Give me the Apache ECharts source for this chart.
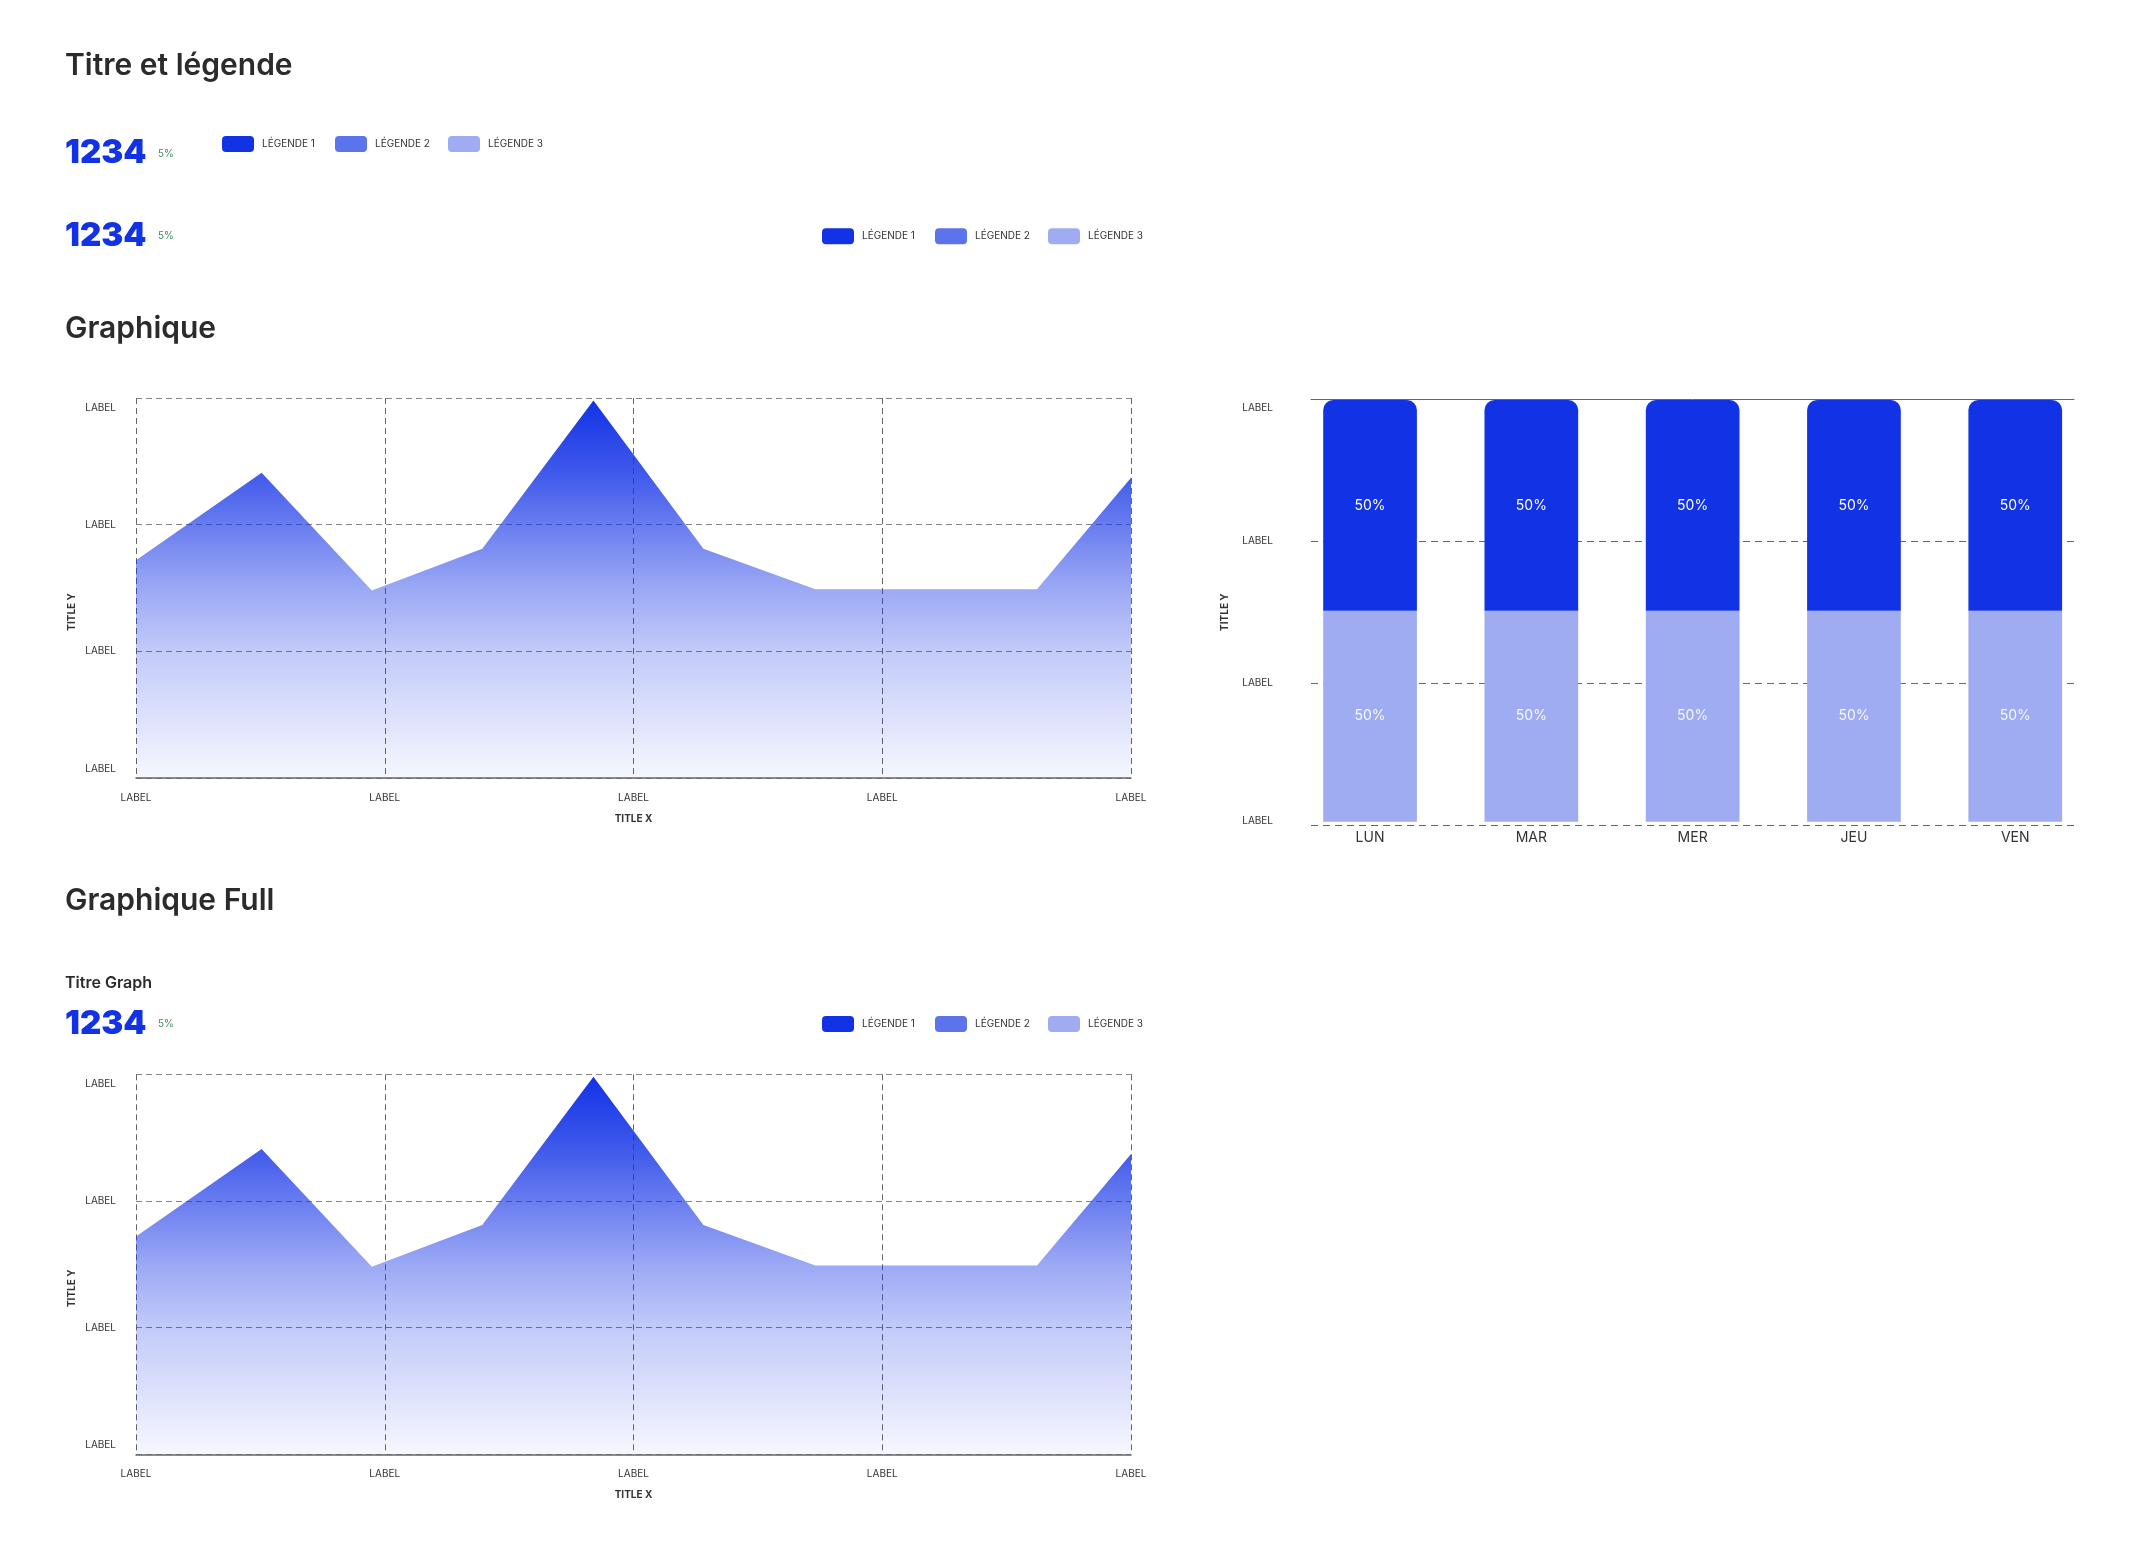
<!DOCTYPE html>
<html>
<head>
<meta charset="utf-8">
<script src="https://cdn.jsdelivr.net/npm/echarts@6/dist/echarts.min.js"></script>
<style>
  html, body { margin: 0; padding: 0; background: #fff; }
  #chart { width: 2150px; height: 1543px; }
</style>
</head>
<body>
<div id="chart"></div>
<script>
// --- données ---
const xTickLabels = ['LABEL', 'LABEL', 'LABEL', 'LABEL', 'LABEL']
const yTickLabels = ['LABEL', 'LABEL', 'LABEL', 'LABEL']
const areaX = [0, 0.505, 0.948, 1.392, 1.839, 2.281, 2.731, 3.622, 4]
const areaY = [1.72, 2.41, 1.48, 1.81, 2.98, 1.81, 1.49, 1.49, 2.37]
const days = ['LUN', 'MAR', 'MER', 'JEU', 'VEN']
const barBottom = [50, 50, 50, 50, 50]
const barTop = [50, 50, 50, 50, 50]
const legendNames = ['LÉGENDE 1', 'LÉGENDE 2', 'LÉGENDE 3']
const legendColors = ['#1232e6', '#5b74ec', '#9facf2']
const kpiValue = '1234'
const kpiDelta = '5%'

const FONT = 'Inter, "Noto Sans", sans-serif'
const BLUE = '#1232e6'
const LIGHT = '#9facf2'

const chart = echarts.init(document.getElementById('chart'), null, { renderer: 'canvas' })

// libellés Y : le premier est poussé vers le haut, le dernier vers le bas
const yLabelStyle = (margin, padTop, padBottom) => ({
  margin, fontFamily: FONT, fontSize: 10, color: '#333',
  formatter: (v) => {
    const i = Math.round(v)
    if (i === yTickLabels.length - 1) return '{t|' + yTickLabels[i] + '}'
    if (i === 0) return '{b|' + yTickLabels[i] + '}'
    return yTickLabels[i]
  },
  rich: {
    t: { fontFamily: FONT, fontSize: 10, color: '#333', padding: [padTop, 0, 0, 0] },
    b: { fontFamily: FONT, fontSize: 10, color: '#333', padding: [0, 0, padBottom, 0] },
  },
})

// axes du graphique en aire (réutilisés pour les deux blocs)
const areaXAxis = (gridIndex) => ({
  gridIndex, type: 'value', min: 0, max: 4, interval: 1,
  name: 'TITLE X', nameLocation: 'middle', nameGap: 36,
  nameTextStyle: { fontFamily: FONT, fontSize: 10, fontWeight: 700, color: '#333' },
  axisLine: { show: true, lineStyle: { color: '#666', width: 1.5 } },
  axisTick: { show: false },
  axisLabel: { margin: 15, fontFamily: FONT, fontSize: 10, color: '#333', formatter: (v) => xTickLabels[Math.round(v)] },
  splitLine: { show: true, lineStyle: { color: '#666', type: [6, 4], width: 1 } },
})
const areaYAxis = (gridIndex) => ({
  gridIndex, type: 'value', min: 0, max: 3, interval: 1,
  name: 'TITLE Y', nameLocation: 'middle', nameGap: 59, nameRotate: 90,
  nameTextStyle: { fontFamily: FONT, fontSize: 10, fontWeight: 700, color: '#333', padding: [0, 48, 0, 0] },
  axisLine: { show: false },
  axisTick: { show: false },
  axisLabel: yLabelStyle(20, 20, 18),
  splitLine: { show: true, lineStyle: { color: '#858585', type: [6, 4], width: 1 } },
})
const areaSeries = (idx) => ({
  type: 'line', xAxisIndex: idx, yAxisIndex: idx,
  data: areaX.map((x, i) => [x, areaY[i]]),
  showSymbol: false, lineStyle: { width: 0 },
  areaStyle: {
    opacity: 1,
    color: new echarts.graphic.LinearGradient(0, 0, 0, 1, [
      { offset: 0, color: 'rgba(18,50,230,1)' },
      { offset: 0.2, color: 'rgba(18,50,230,0.8)' },
      { offset: 0.5, color: 'rgba(18,50,230,0.42)' },
      { offset: 0.66, color: 'rgba(18,50,230,0.26)' },
      { offset: 1, color: 'rgba(18,50,230,0.04)' },
    ]),
  },
  silent: true,
})

// textes et légendes
const graphics = []
const heading = (text, y, size = 30) => graphics.push({
  type: 'text', left: 65, top: y - size * 0.43,
  style: { text, font: `600 ${size}px ${FONT}`, fill: '#2b2b2b' },
})
const kpi = (y) => {
  graphics.push({ type: 'text', x: 65, y, style: { text: kpiValue, font: `900 33px ${FONT}`, fill: BLUE, verticalAlign: 'middle' } })
  graphics.push({ type: 'text', x: 158, y, style: { text: kpiDelta, font: `400 10px ${FONT}`, fill: '#3d8f5f', verticalAlign: 'middle' } })
}
const legend = (x0, y) => legendNames.forEach((name, i) => {
  const x = x0 + i * 113
  graphics.push({ type: 'rect', shape: { x, y: y - 8, width: 32, height: 16, r: 4 }, style: { fill: legendColors[i] } })
  graphics.push({ type: 'text', x: x + 40, y, style: { text: name, font: `400 10px ${FONT}`, fill: '#333', verticalAlign: 'middle' } })
})

heading('Titre et légende', 64)
kpi(153.5); legend(222, 144)
kpi(236); legend(822, 236.3)
heading('Graphique', 327)
heading('Graphique Full', 899)
heading('Titre Graph', 982.5, 16)
kpi(1024); legend(822, 1024)

chart.setOption({
  backgroundColor: '#fff',
  animation: false,
  textStyle: { fontFamily: FONT },
  grid: [
    { left: 136, top: 398, width: 995, height: 380 },        // aire 1
    { left: 1311, top: 399.3, width: 763, height: 425.7 },   // lignes du graphique en barres
    { left: 1289.4, top: 400, width: 806.5, height: 421.7 }, // barres
    { left: 136, top: 1074.3, width: 995, height: 380 },     // aire 2
  ],
  xAxis: [
    areaXAxis(0),
    { gridIndex: 1, type: 'value', position: 'top', min: 0, max: 1,
      axisLine: { show: true, onZero: false, lineStyle: { color: '#666', width: 1 } },
      axisTick: { show: false }, axisLabel: { show: false }, splitLine: { show: false } },
    { gridIndex: 2, type: 'category', data: days,
      axisLine: { show: false }, axisTick: { show: false },
      axisLabel: { margin: 9, fontFamily: FONT, fontSize: 14, color: '#333' } },
    areaXAxis(3),
  ],
  yAxis: [
    areaYAxis(0),
    { gridIndex: 1, type: 'value', min: 0, max: 3, interval: 1,
      name: 'TITLE Y', nameLocation: 'middle', nameGap: 81, nameRotate: 90,
      nameTextStyle: { fontFamily: FONT, fontSize: 10, fontWeight: 700, color: '#333' },
      axisLine: { show: false }, axisTick: { show: false },
      axisLabel: yLabelStyle(38, 18, 8),
      splitLine: { show: true, lineStyle: { color: '#666', type: [7, 5], width: 1 } } },
    { gridIndex: 2, type: 'value', min: 0, max: 100, show: false },
    areaYAxis(3),
  ],
  series: [
    areaSeries(0),
    { type: 'bar', xAxisIndex: 2, yAxisIndex: 2, stack: 'total', barWidth: 93.7, data: barBottom,
      itemStyle: { color: LIGHT },
      label: { show: true, position: 'inside', formatter: '{c}%', color: 'rgba(255,255,255,0.92)', fontFamily: FONT, fontSize: 14 } },
    { type: 'bar', xAxisIndex: 2, yAxisIndex: 2, stack: 'total', barWidth: 93.7, data: barTop,
      itemStyle: { color: BLUE, borderRadius: [10, 10, 0, 0] },
      label: { show: true, position: 'inside', formatter: '{c}%', color: '#fff', fontFamily: FONT, fontSize: 14 } },
    areaSeries(3),
  ],
  graphic: graphics,
})
</script>
</body>
</html>
